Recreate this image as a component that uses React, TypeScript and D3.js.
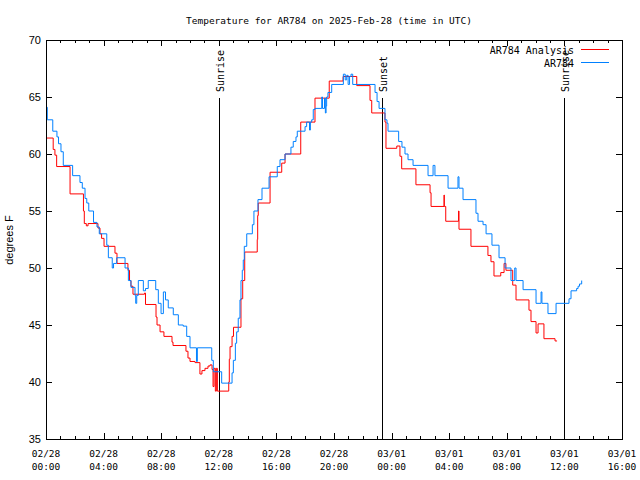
import * as d3 from 'd3';
import React from 'react';
import { useRef, useEffect } from 'react';

// hours after 02/28 00:00 UTC, degrees F
const analysis: [number, number][] = [
  [0.05, 61.4], [0.5, 60.4], [0.62, 59.9], [0.74, 58.9], [1.67, 56.5], [2.6, 55.0], [2.66, 53.9],
  [2.8, 53.7], [2.92, 53.9], [3.61, 53.5], [3.75, 53.0], [3.86, 52.6], [4.03, 51.9], [4.79, 51.3],
  [4.93, 50.4], [5.69, 49.8], [5.8, 48.9], [5.9, 48.4], [6.04, 47.7], [6.84, 47.8], [6.91, 46.8],
  [7.64, 45.7], [7.71, 45.0], [7.92, 44.4], [8.19, 44.0], [8.75, 43.5], [8.82, 43.2], [9.72, 42.7],
  [9.86, 42.1], [10.0, 41.8], [10.35, 41.7], [10.69, 40.7], [10.83, 41.0], [11.04, 41.2],
  [11.25, 41.4], [11.39, 41.5], [11.53, 41.1], [11.6, 39.6], [11.67, 41.2], [11.76, 39.2],
  [11.83, 41.2], [11.9, 39.2], [12.69, 40.0], [12.73, 42.0], [12.78, 43.1], [12.92, 44.0],
  [13.02, 44.8], [13.54, 47.3], [13.66, 48.9], [13.8, 51.4], [14.67, 52.5], [14.7, 54.6],
  [14.74, 55.7], [15.56, 58.4], [16.37, 59.2], [16.6, 60.0], [17.69, 62.8], [18.68, 64.9],
  [19.67, 66.4], [20.63, 66.8], [21.58, 66.0], [22.5, 64.7], [22.62, 63.6], [23.54, 62.8],
  [23.61, 60.5], [24.36, 60.7], [24.58, 59.8], [24.7, 58.7], [25.69, 57.3], [26.67, 56.6],
  [26.74, 55.4], [27.64, 56.4], [27.66, 55.4], [27.76, 54.1], [28.65, 55.0], [28.68, 53.4],
  [29.51, 51.9], [30.69, 51.1], [30.9, 50.55], [31.11, 49.3], [31.58, 49.6], [31.81, 50.4],
  [31.94, 49.8], [32.41, 48.5], [32.64, 47.2], [33.54, 46.3], [33.68, 45.3], [34.03, 44.3],
  [34.17, 45.1], [34.58, 43.8], [35.35, 43.6], [35.49, 43.6],
];

const observed: [number, number][] = [
  [0.05, 64.1], [0.09, 63.0], [0.47, 62.0], [0.76, 61.5], [0.87, 60.9], [1.04, 60.2], [1.2, 59.0],
  [1.85, 58.1], [2.36, 57.5], [2.52, 57.0], [2.71, 56.1], [2.83, 55.7], [2.97, 55.0], [3.3, 54.0],
  [3.54, 53.6], [3.7, 53.0], [4.22, 52.0], [4.33, 50.9], [4.6, 50.0], [4.69, 50.4], [4.91, 50.9],
  [5.49, 50.0], [5.72, 48.9], [5.9, 48.3], [6.18, 47.6], [6.23, 46.9], [6.3, 47.6], [6.41, 48.9],
  [6.76, 48.0], [6.91, 48.2], [7.1, 48.9], [7.62, 48.1], [7.8, 46.9], [7.99, 46.0], [8.15, 47.9],
  [8.3, 47.2], [8.49, 46.5], [8.84, 45.9], [9.19, 45.0], [9.53, 44.9], [9.77, 44.0], [10.0, 43.0],
  [10.45, 41.8], [10.51, 43.0], [11.51, 41.9], [11.62, 40.9], [12.2, 39.9], [12.92, 40.8],
  [13.01, 41.9], [13.15, 43.4], [13.24, 44.4], [13.35, 45.6], [13.47, 47.2], [13.54, 48.9],
  [13.63, 49.8], [13.7, 50.7], [13.77, 51.9], [13.94, 53.0], [14.33, 53.8], [14.44, 55.0],
  [14.72, 56.0], [15.0, 57.0], [15.49, 58.0], [16.06, 58.9], [16.25, 59.5], [16.6, 60.0],
  [17.01, 60.6], [17.17, 61.1], [17.36, 61.5], [17.45, 62.0], [17.99, 62.4], [18.1, 62.8],
  [18.3, 62.1], [18.36, 62.8], [18.45, 63.0], [18.56, 63.9], [18.68, 64.0], [19.15, 65.0],
  [19.2, 64.0], [19.34, 64.9], [19.4, 63.6], [19.45, 64.2], [19.49, 65.0], [19.58, 65.4],
  [19.84, 66.1], [20.65, 67.0], [20.78, 66.5], [20.88, 66.9], [20.98, 66.1], [21.08, 66.8],
  [21.18, 67.0], [21.3, 66.1], [22.85, 65.4], [22.99, 64.6], [23.13, 64.0], [23.54, 63.0],
  [23.68, 62.7], [23.75, 62.0], [24.49, 61.1], [24.72, 60.6], [24.93, 60.0], [25.14, 59.5],
  [25.49, 59.0], [26.53, 58.1], [26.88, 59.0], [27.01, 58.1], [27.92, 57.0], [28.61, 58.0],
  [28.68, 57.0], [28.96, 56.0], [29.86, 54.8], [30.0, 54.1], [30.35, 53.8], [30.56, 53.0],
  [30.97, 52.0], [31.46, 50.9], [31.88, 50.0], [32.29, 48.9], [32.55, 50.0], [32.64, 48.9],
  [33.13, 48.1], [34.03, 46.9], [34.38, 47.9], [34.44, 46.9], [34.86, 46.0], [35.42, 46.9],
  [36.32, 47.3], [36.46, 48.0], [36.85, 48.2], [36.95, 48.4], [37.05, 48.6], [37.2, 48.9],
];

const sunEvents = [
  { label: 'Sunrise', hour: 12.01 },
  { label: 'Sunset', hour: 23.31 },
  { label: 'Sunrise', hour: 36.0 },
];

const xTickLabels = [
  ['02/28', '00:00'], ['02/28', '04:00'], ['02/28', '08:00'], ['02/28', '12:00'],
  ['02/28', '16:00'], ['02/28', '20:00'], ['03/01', '00:00'], ['03/01', '04:00'],
  ['03/01', '08:00'], ['03/01', '12:00'], ['03/01', '16:00'],
];

const yTicks = [35, 40, 45, 50, 55, 60, 65, 70];

const series = [
  { name: 'AR784 Analysis', color: '#ff0000', data: analysis },
  { name: 'AR784', color: '#0080ff', data: observed },
];

const W = 640;
const H = 480;
const mono = '"DejaVu Sans Mono", monospace';
const sans = '"Liberation Sans", Arial, sans-serif';

export default function App() {
  const svgRef = useRef<SVGSVGElement | null>(null);

  useEffect(() => {
    if (!svgRef.current) return;
    const svg = d3.select(svgRef.current);
    svg.selectAll('*').remove();

    const left = 46, right = 622, top = 40, bottom = 439;
    const x = d3.scaleLinear().domain([0, 40]).range([left, right]);
    const y = d3.scaleLinear().domain([35, 70]).range([bottom, top]);

    svg.append('rect').attr('width', W).attr('height', H).attr('fill', '#fff');

    const axes = svg.append('g').attr('stroke', '#000').attr('stroke-width', 1).attr('shape-rendering', 'crispEdges');

    // x ticks, hourly minors, 4-hour majors, mirrored on top
    d3.range(0, 41).forEach((h) => {
      const len = h % 4 === 0 ? 6 : 3;
      const px = Math.round(x(h)) + 0.5;
      axes.append('line').attr('x1', px).attr('x2', px).attr('y1', bottom).attr('y2', bottom - len);
      axes.append('line').attr('x1', px).attr('x2', px).attr('y1', top).attr('y2', top + len);
    });
    yTicks.forEach((v) => {
      const py = Math.round(y(v)) + 0.5;
      axes.append('line').attr('x1', left).attr('x2', left + 6).attr('y1', py).attr('y2', py);
      axes.append('line').attr('x1', right).attr('x2', right - 6).attr('y1', py).attr('y2', py);
    });

    svg
      .append('g')
      .selectAll('text')
      .data(yTicks)
      .join('text')
      .attr('x', left - 5)
      .attr('y', (d) => y(d) + 4)
      .attr('text-anchor', 'end')
      .attr('font-family', sans)
      .attr('font-size', 11)
      .text((d) => d);

    const xl = svg
      .append('g')
      .selectAll('text')
      .data(xTickLabels)
      .join('text')
      .attr('x', (_, i) => x(i * 4))
      .attr('text-anchor', 'middle')
      .attr('font-family', mono)
      .attr('font-size', 9.5);
    xl.append('tspan').attr('x', (_, i) => x(i * 4)).attr('y', 457).text((d) => d[0]);
    xl.append('tspan').attr('x', (_, i) => x(i * 4)).attr('y', 470).text((d) => d[1]);

    // sunrise / sunset markers
    sunEvents.forEach((e) => {
      const px = Math.round(x(e.hour)) + 0.5;
      svg
        .append('line')
        .attr('x1', px)
        .attr('x2', px)
        .attr('y1', 98)
        .attr('y2', bottom)
        .attr('stroke', '#000')
        .attr('shape-rendering', 'crispEdges');
      svg
        .append('text')
        .attr('transform', `translate(${px + 0.5},92) rotate(-90)`)
        .attr('text-anchor', 'start')
        .attr('dominant-baseline', 'central')
        .attr('font-family', mono)
        .attr('font-size', 10)
        .text(e.label);
    });

    const line = d3
      .line<[number, number]>()
      .x((d) => x(d[0]))
      .y((d) => y(d[1]))
      .curve(d3.curveStepAfter);

    series.forEach((s) => {
      svg
        .append('path')
        .attr('d', line(s.data))
        .attr('fill', 'none')
        .attr('stroke', s.color)
        .attr('stroke-width', 1);
    });

    // legend
    series.forEach((s, i) => {
      const ly = 49.5 + i * 13;
      svg
        .append('text')
        .attr('x', 574)
        .attr('y', ly + 4)
        .attr('text-anchor', 'end')
        .attr('font-family', mono)
        .attr('font-size', 10)
        .text(s.name);
      svg
        .append('line')
        .attr('x1', 581)
        .attr('x2', 609)
        .attr('y1', ly)
        .attr('y2', ly)
        .attr('stroke', s.color)
        .attr('stroke-width', 1);
    });

    svg
      .append('rect')
      .attr('x', left + 0.5)
      .attr('y', top + 0.5)
      .attr('width', right - left)
      .attr('height', bottom - top)
      .attr('fill', 'none')
      .attr('stroke', '#000')
      .attr('shape-rendering', 'crispEdges');

    svg
      .append('text')
      .attr('x', 329)
      .attr('y', 24)
      .attr('text-anchor', 'middle')
      .attr('font-family', mono)
      .attr('font-size', 9.5)
      .text('Temperature for AR784 on 2025-Feb-28 (time in UTC)');

    svg
      .append('text')
      .attr('transform', `translate(13,240) rotate(-90)`)
      .attr('text-anchor', 'middle')
      .attr('font-family', sans)
      .attr('font-size', 11)
      .text('degrees F');
  }, []);

  return <svg ref={svgRef} width={W} height={H} style={{ position: 'absolute', left: 0, top: 0 }} />;
}
